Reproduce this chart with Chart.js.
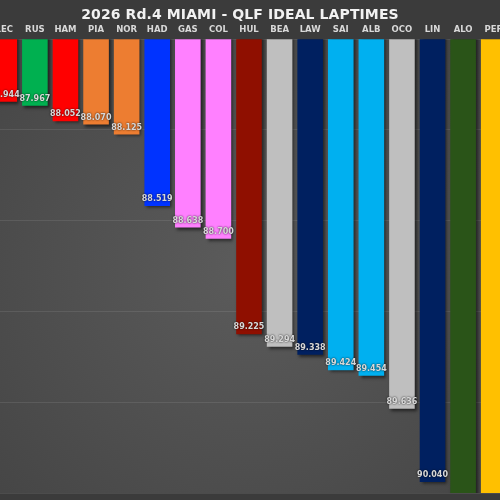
<!DOCTYPE html>
<html>
<head>
<meta charset="utf-8">
<script src="https://cdn.jsdelivr.net/npm/chart.js@4.4.1/dist/chart.umd.min.js"></script>
<style>
  html, body { margin: 0; padding: 0; width: 500px; height: 500px; overflow: hidden; background: #3b3b3b; }
  #title {
    position: absolute; top: 6px; left: 0; width: 480px; text-align: center;
    font-family: "DejaVu Sans", sans-serif; font-weight: bold; font-size: 14px;
    color: #f2f2f2; letter-spacing: 0.1px;
  }
  #wrap { position: absolute; top: 0; left: -11px; width: 520px; height: 500px; }
</style>
</head>
<body>
<div id="wrap"><canvas id="lapChart"></canvas></div>
<div id="title">2026 Rd.4 MIAMI - QLF IDEAL LAPTIMES</div>
<script>
// drivers visible in the reference (it is cropped on both sides)
const drivers = ['LEC', 'RUS', 'HAM', 'PIA', 'NOR', 'HAD', 'GAS', 'COL', 'HUL', 'BEA', 'LAW', 'SAI', 'ALB', 'OCO', 'LIN', 'ALO', 'PER'];
// ideal lap times in seconds (ALO and PER run past the bottom, estimated)
const lapTimes = [87.944, 87.967, 88.052, 88.070, 88.125, 88.519, 88.638, 88.700, 89.225, 89.294, 89.338, 89.424, 89.454, 89.636, 90.040, 90.25, 90.45];
const teamColors = ['#ff0000', '#00b050', '#ff0000', '#ed7d31', '#ed7d31', '#0033ff', '#ff80ff', '#ff80ff', '#8f0f00', '#bfbfbf', '#002060', '#00b0f0', '#00b0f0', '#bfbfbf', '#002060', '#2a5418', '#ffc000'];
const yMin = 87.6;
const yMax = 90.1;

document.addEventListener('DOMContentLoaded', () => {
    // radial grey background for the plot area
    const plotBackground = {
        id: 'plotBackground',
        beforeDraw(chart) {
            const { ctx, chartArea: a } = chart;
            ctx.save();
            const g = ctx.createRadialGradient((a.left + a.right) / 2, (a.top + a.bottom) / 2, 20,
                (a.left + a.right) / 2, (a.top + a.bottom) / 2, 380);
            g.addColorStop(0, '#5a5a5a');
            g.addColorStop(1, '#434343');
            ctx.fillStyle = g;
            ctx.fillRect(a.left - 20, a.top, a.right - a.left + 40, a.bottom - a.top);
            ctx.restore();
        }
    };

    // bar shadows + value labels at the end of each bar
    const barLabels = {
        id: 'barLabels',
        beforeDatasetsDraw(chart) {
            const ctx = chart.ctx;
            ctx.save();
            ctx.shadowColor = 'rgba(0,0,0,0.55)';
            ctx.shadowBlur = 3;
            ctx.shadowOffsetX = 2;
            ctx.shadowOffsetY = 2;
        },
        afterDatasetsDraw(chart) {
            const ctx = chart.ctx;
            ctx.restore();
            const meta = chart.getDatasetMeta(0);
            ctx.save();
            ctx.font = 'bold 8px "DejaVu Sans", sans-serif';
            ctx.textAlign = 'center';
            ctx.textBaseline = 'middle';
            ctx.fillStyle = '#d8d8d8';
            ctx.shadowColor = 'rgba(0,0,0,0.9)';
            ctx.shadowBlur = 2;
            meta.data.forEach((bar, i) => {
                if (lapTimes[i] > yMax) return;
                ctx.fillText(lapTimes[i].toFixed(3), bar.x, bar.y - 7);
            });
            ctx.restore();
        }
    };

    new Chart(document.getElementById('lapChart'), {
        type: 'bar',
        data: {
            labels: drivers,
            datasets: [{
                data: lapTimes,
                backgroundColor: teamColors,
                borderWidth: 0,
                barPercentage: 0.93,
                categoryPercentage: 0.9
            }]
        },
        options: {
            responsive: true,
            maintainAspectRatio: false,
            animation: false,
            layout: { padding: { top: 21, bottom: 7, left: 0, right: 0 } },
            scales: {
                x: {
                    position: 'top',
                    grid: { display: false, drawTicks: false, tickLength: 0 },
                    border: { display: false },
                    ticks: {
                        color: '#d9d9d9',
                        padding: 4,
                        maxRotation: 0,
                        autoSkip: false,
                        font: { family: 'DejaVu Sans', size: 8.5, weight: 'bold' }
                    }
                },
                y: {
                    reverse: true,
                    min: yMin,
                    max: yMax,
                    display: true,
                    ticks: { display: false, stepSize: 0.5 },
                    border: { display: false },
                    grid: { color: 'rgba(255,255,255,0.09)', lineWidth: 1, drawTicks: false }
                }
            },
            plugins: {
                legend: { display: false },
                tooltip: { enabled: false }
            }
        },
        plugins: [plotBackground, barLabels]
    });
});
</script>
</body>
</html>
